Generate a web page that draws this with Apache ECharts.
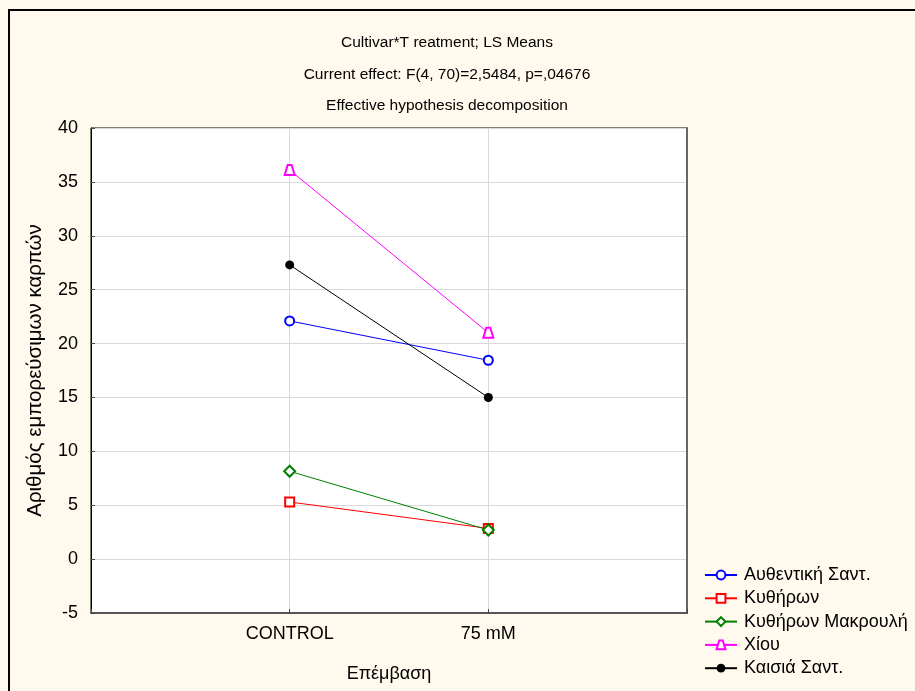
<!DOCTYPE html>
<html>
<head>
<meta charset="utf-8">
<script src="https://cdn.jsdelivr.net/npm/echarts@6/dist/echarts.min.js"></script>
<style>
  html, body { margin: 0; padding: 0; background: #FFF9EE; }
  #chart { width: 915px; height: 691px; }
</style>
</head>
<body>
<div id="chart"></div>
<script>
// Treatments on the x axis
const treatments = ['CONTROL', '75 mM'];
// Cultivar names (legend)
const cultivars = ['Αυθεντική Σαντ.', 'Κυθήρων', 'Κυθήρων Μακρουλή', 'Χίου', 'Καισιά Σαντ.'];
// LS means per cultivar: [CONTROL, 75 mM]
const authentikiSant = [22.1, 18.45];
const kythiron = [5.3, 2.85];
const kythironMakrouli = [8.15, 2.7];
const chiou = [36.1, 21.0];
const kaisiaSant = [27.3, 15.0];
// Y axis ticks
const yTicks = [-5, 0, 5, 10, 15, 20, 25, 30, 35, 40];

const seriesValues = [authentikiSant, kythiron, kythironMakrouli, chiou, kaisiaSant];
const seriesColors = ['#0000FF', '#FF0000', '#008000', '#FF00FF', '#000000'];
const seriesSymbols = [
  'circle',
  'rect',
  'diamond',
  'path://M3,0 L7,0 L10,10 L0,10 Z',
  'circle'
];
const seriesSizes = [9, 9, 11, 10, 9];
const filled = [false, false, false, false, true];

// Empty slots at both ends keep the two treatments at one and two thirds of the width
const categories = [''].concat(treatments, ['']);

const font = '"Liberation Sans", Arial, sans-serif';

const chart = echarts.init(document.getElementById('chart'), null, { renderer: 'canvas' });

const series = cultivars.map((name, i) => ({
  name: name,
  type: 'line',
  data: [null].concat(seriesValues[i], [null]),
  symbol: seriesSymbols[i],
  symbolSize: seriesSizes[i],
  showSymbol: true,
  lineStyle: { color: seriesColors[i], width: 1 },
  itemStyle: {
    color: filled[i] ? seriesColors[i] : '#FFFFFF',
    borderColor: seriesColors[i],
    borderWidth: filled[i] ? 0 : 2
  },
  emphasis: { disabled: true },
  animation: false,
  z: 3 + i
}));

chart.setOption({
  backgroundColor: '#FFF9EE',
  animation: false,
  textStyle: { fontFamily: font },
  title: {
    text: 'Cultivar*T reatment; LS Means\nCurrent effect: F(4, 70)=2,5484, p=,04676\nEffective hypothesis decomposition',
    left: 442,
    top: 22,
    textAlign: 'center',
    textStyle: { fontFamily: font, fontSize: 15.5, fontWeight: 'normal', color: '#000', lineHeight: 31.5 }
  },
  graphic: [{
    type: 'rect',
    shape: { x: 9, y: 10, width: 1000, height: 1000 },
    style: { fill: null, stroke: '#000', lineWidth: 2 },
    silent: true,
    z: 100
  }],
  legend: {
    orient: 'vertical',
    left: 704,
    top: 566,
    padding: 0,
    itemWidth: 32,
    itemHeight: 11,
    itemGap: 5.3,
    textStyle: { fontFamily: font, fontSize: 18, color: '#000', padding: [0, 0, 0, 2] },
    data: cultivars
  },
  grid: {
    left: 91,
    top: 128,
    width: 596,
    height: 485,
    show: true,
    backgroundColor: '#FFFFFF',
    borderColor: '#000',
    borderWidth: 1
  },
  xAxis: {
    type: 'category',
    data: categories,
    boundaryGap: false,
    name: 'Επέμβαση',
    nameLocation: 'middle',
    nameGap: 52,
    nameTextStyle: { fontFamily: font, fontSize: 18, color: '#000' },
    axisLine: { show: true, onZero: false, lineStyle: { color: '#555', width: 2 } },
    axisTick: { show: true, inside: true, length: 4, lineStyle: { color: '#444' } },
    axisLabel: { margin: 12, fontFamily: font, fontSize: 18, color: '#000', interval: 0 },
    splitLine: { show: true, lineStyle: { color: '#D9D9D9', width: 1 } }
  },
  yAxis: [{
    type: 'value',
    min: yTicks[0],
    max: yTicks[yTicks.length - 1],
    interval: yTicks[1] - yTicks[0],
    name: 'Αριθμός εμπορεύσιμων καρπών',
    nameLocation: 'middle',
    nameGap: 45,
    nameTextStyle: { fontFamily: font, fontSize: 20.5, color: '#000' },
    axisLine: { show: true, onZero: false, lineStyle: { color: '#000', width: 1 } },
    axisTick: { show: true, inside: true, length: 4, lineStyle: { color: '#444' } },
    axisLabel: { margin: 13, fontFamily: font, fontSize: 18, color: '#000' },
    splitLine: { show: true, lineStyle: { color: '#D9D9D9', width: 1 } }
  }, {
    type: 'value',
    position: 'right',
    min: yTicks[0],
    max: yTicks[yTicks.length - 1],
    interval: yTicks[1] - yTicks[0],
    axisLine: { show: true, onZero: false, lineStyle: { color: '#666', width: 2 } },
    axisTick: { show: false },
    axisLabel: { show: false },
    splitLine: { show: false }
  }],
  series: series
});
</script>
</body>
</html>
